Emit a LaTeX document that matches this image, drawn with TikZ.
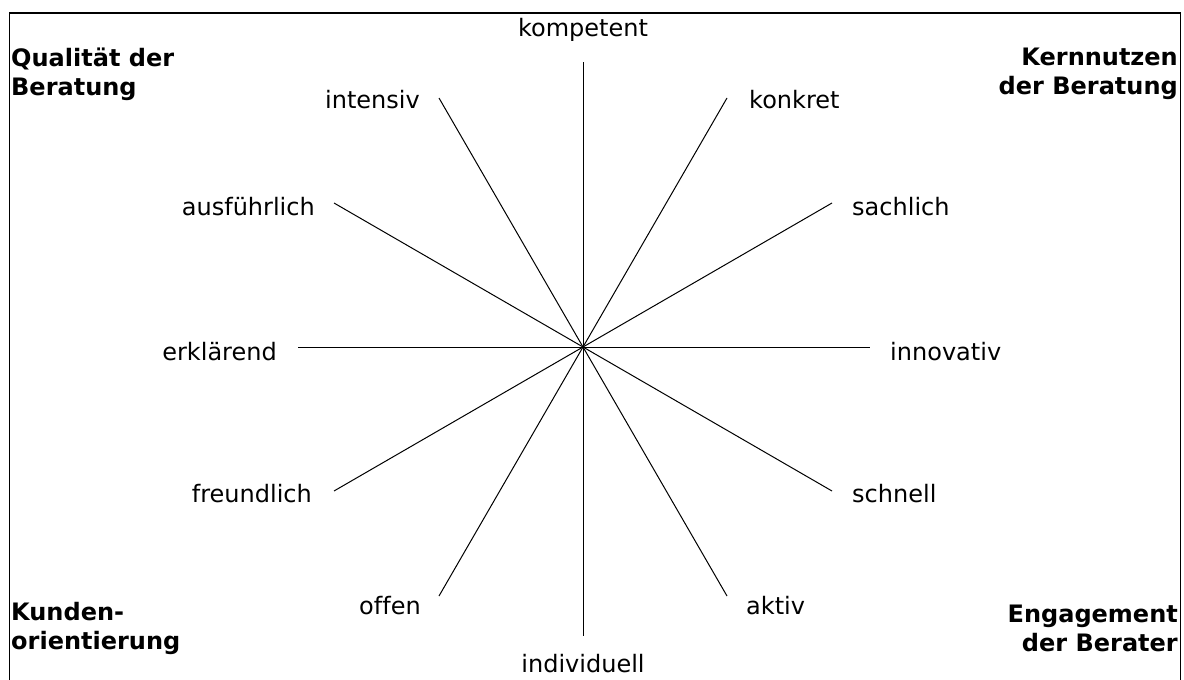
\documentclass[tikz,border=0pt]{standalone}
\usepackage{fontspec}
\setmainfont{DejaVu Sans}[Ligatures=NoCommon]
\begin{document}
\begin{tikzpicture}[x=1pt,y=-1pt,
  lab/.style={inner sep=0pt,font=\fontsize{24}{29}\selectfont},
  ttl/.style={inner sep=0pt,font=\fontsize{24}{29}\selectfont\bfseries},
  spoke/.style={line width=1pt}]
\clip (0,0) rectangle (1184,680);
\draw[line width=1.3pt] (9.5,700) -- (9.5,13) -- (1180.5,13) -- (1180.5,700);
\coordinate (c) at (583,347);
\coordinate (e0) at (583,62);
\coordinate (e1) at (727,98);
\coordinate (e2) at (832,203);
\coordinate (e3) at (870,347);
\coordinate (e4) at (832,491);
\coordinate (e5) at (727,596);
\coordinate (e6) at (583,636);
\coordinate (e7) at (439,596);
\coordinate (e8) at (334,491);
\coordinate (e9) at (298,347);
\coordinate (e10) at (334,203);
\coordinate (e11) at (439,98);
\foreach \i in {0,...,11} \draw[spoke] (c) -- (e\i);
\node[lab] (l0) at (583,30) {kompetent};
\node[lab,anchor=west] (l1) at (749,100) {konkret};
\node[lab,anchor=west] (l2) at (852,207) {sachlich};
\node[lab,anchor=west] (l3) at (890,352) {innovativ};
\node[lab,anchor=west] (l4) at (852,494) {schnell};
\node[lab,anchor=west] (l5) at (746,606) {aktiv};
\node[lab] (l6) at (583,664) {individuell};
\node[lab,anchor=east] (l7) at (421,606) {offen};
\node[lab,anchor=east] (l8) at (312,494) {freundlich};
\node[lab,anchor=east] (l9) at (277,352) {erklärend};
\node[lab,anchor=east] (l10) at (315,207) {ausführlich};
\node[lab,anchor=east] (l11) at (420,100) {intensiv};
\node[ttl,anchor=west,align=left] (t1) at (11,74) {Qualität der\\Beratung};
\node[ttl,anchor=east,align=right] (t2) at (1178,74) {Kernnutzen\\der Beratung};
\node[ttl,anchor=west,align=left] (t3) at (11,628) {Kunden-\\orientierung};
\node[ttl,anchor=east,align=right] (t4) at (1178,628) {Engagement\\der Berater};
\end{tikzpicture}
\end{document}
